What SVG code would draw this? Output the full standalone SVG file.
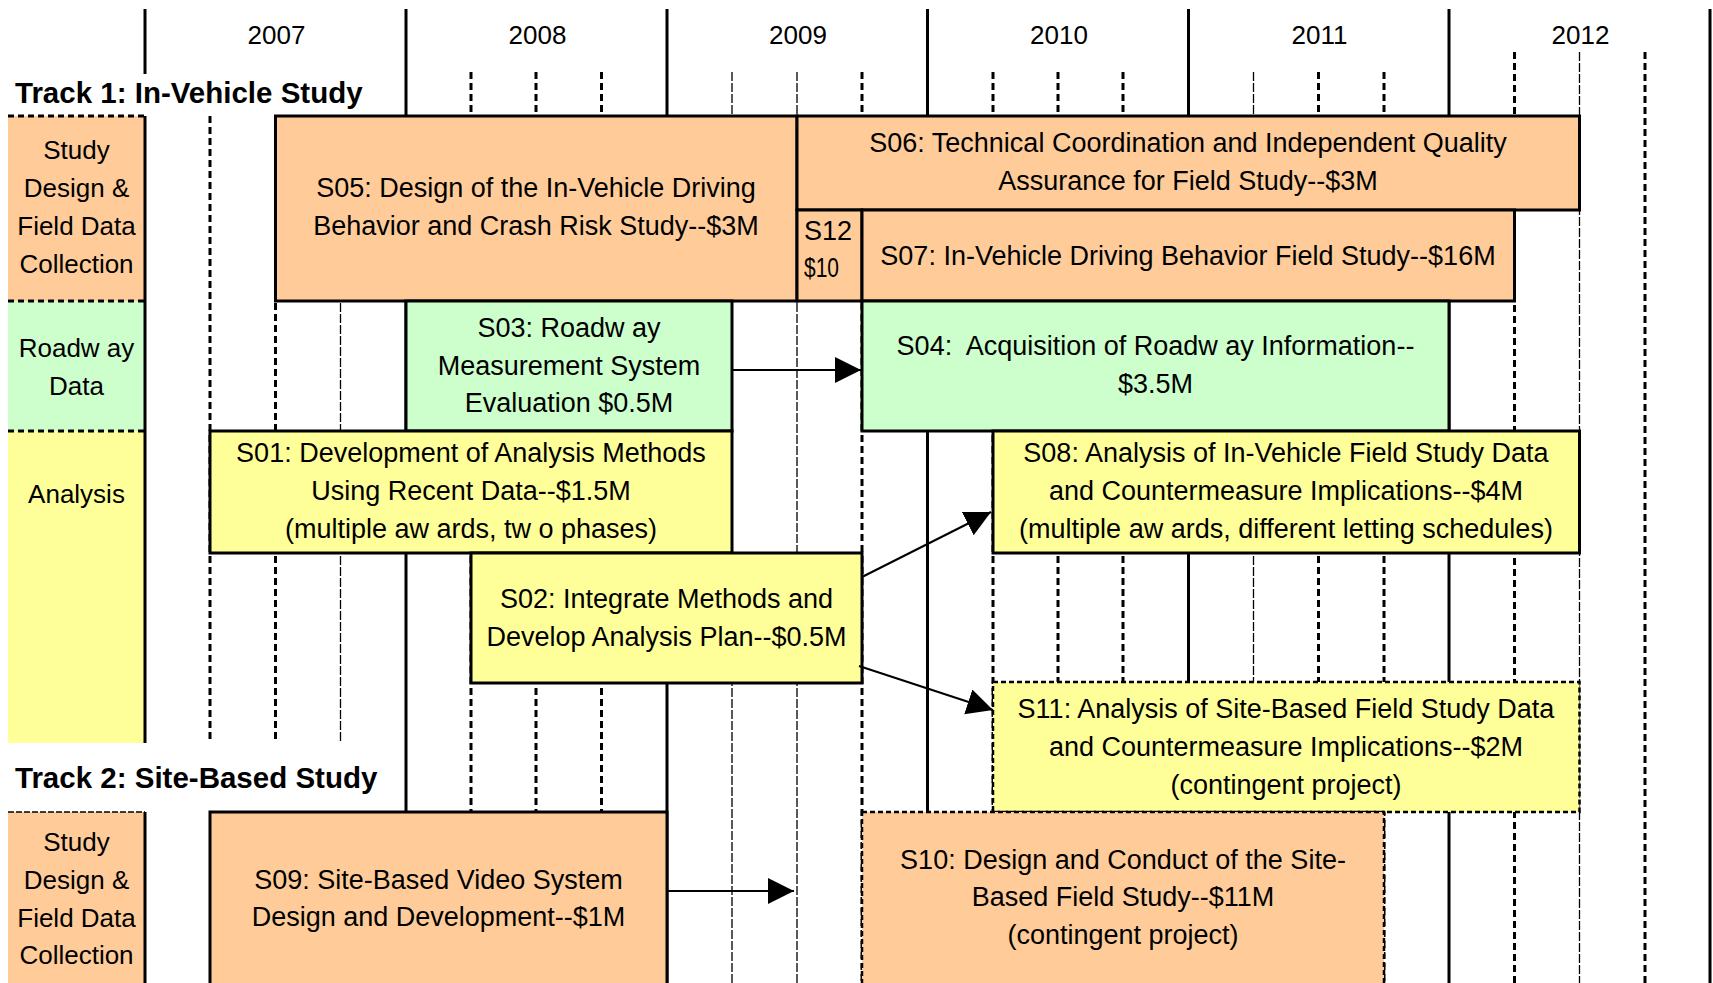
<svg xmlns="http://www.w3.org/2000/svg" width="1713" height="983" viewBox="0 0 1713 983">
<defs>
<style>
.t{font-family:"Liberation Sans",Arial,sans-serif;font-size:27px;fill:#000;text-anchor:middle}
.ln{font-size:26px}
.tl{text-anchor:start}
.bold{font-family:"Liberation Sans",Arial,sans-serif;font-weight:bold;font-size:29.5px;fill:#000}
.yr{stroke:#000;stroke-width:3}
.q1{stroke:#000;stroke-width:3;stroke-dasharray:7 4}
.q2{stroke:#000;stroke-width:1.3;stroke-dasharray:9 2}
.or{fill:#FFCC99}
.gr{fill:#CCFFCC}
.ye{fill:#FFFF99}
.box{stroke:#000;stroke-width:3}
.dbox{stroke:#000;stroke-width:2.5;stroke-dasharray:5 3}
.lb{stroke:#000;stroke-width:3;stroke-dasharray:6 4}
.lb2{stroke:#000;stroke-width:1.5;stroke-dasharray:6 2}
.conn line{stroke:#000;stroke-width:2;marker-end:url(#ah)}
</style>
<marker id="ah" markerUnits="userSpaceOnUse" markerWidth="28" markerHeight="28" refX="26" refY="13" orient="auto"><path d="M0,0 L26,13 L0,26 Z" fill="#000"/></marker>
</defs>
<rect x="0" y="0" width="1713" height="983" fill="#fff"/>

<g id="lanes">
<rect class="or" x="8" y="116" width="137" height="185"/>
<rect class="gr" x="8" y="301" width="137" height="130"/>
<rect class="ye" x="8" y="431" width="137" height="312"/>
<rect class="or" x="8" y="812" width="137" height="171"/>
<line class="lb" x1="8" y1="116" x2="145" y2="116"/>
<line class="lb" x1="8" y1="301" x2="145" y2="301"/>
<line class="lb" x1="8" y1="431" x2="145" y2="431"/>
<line class="lb2" x1="8" y1="812" x2="145" y2="812"/>
<text class="t ln" x="76.5" y="159">Study</text>
<text class="t ln" x="76.5" y="197">Design &amp;</text>
<text class="t ln" x="76.5" y="235">Field Data</text>
<text class="t ln" x="76.5" y="273">Collection</text>
<text class="t ln" x="76.5" y="357">Roadw ay</text>
<text class="t ln" x="76.5" y="395">Data</text>
<text class="t ln" x="76.5" y="503">Analysis</text>
<text class="t ln" x="76.5" y="851">Study</text>
<text class="t ln" x="76.5" y="889">Design &amp;</text>
<text class="t ln" x="76.5" y="926.5">Field Data</text>
<text class="t ln" x="76.5" y="964">Collection</text>
</g>

<g id="grid">
<line class="yr" x1="145" y1="9" x2="145" y2="74"/>
<line class="yr" x1="145" y1="116" x2="145" y2="743"/>
<line class="yr" x1="145" y1="812" x2="145" y2="983"/>
<line class="yr" x1="406" y1="9" x2="406" y2="983"/>
<line class="yr" x1="667" y1="9" x2="667" y2="983"/>
<line class="yr" x1="927.5" y1="9" x2="927.5" y2="983"/>
<line class="yr" x1="1188.5" y1="9" x2="1188.5" y2="983"/>
<line class="yr" x1="1449" y1="9" x2="1449" y2="983"/>
<line class="yr" x1="1710" y1="9" x2="1710" y2="983"/>
<line class="q1" x1="210" y1="116" x2="210" y2="743"/>
<line class="q1" x1="275.5" y1="116" x2="275.5" y2="743"/>
<line class="q2" x1="340.5" y1="116" x2="340.5" y2="743"/>
<line class="q1" x1="471" y1="72" x2="471" y2="983"/>
<line class="q1" x1="536" y1="72" x2="536" y2="983"/>
<line class="q1" x1="601.5" y1="72" x2="601.5" y2="983"/>
<line class="q2" x1="732" y1="72" x2="732" y2="983"/>
<line class="q2" x1="797" y1="72" x2="797" y2="983"/>
<line class="q1" x1="862" y1="72" x2="862" y2="983"/>
<line class="q1" x1="993" y1="72" x2="993" y2="983"/>
<line class="q1" x1="1058" y1="72" x2="1058" y2="983"/>
<line class="q1" x1="1123" y1="72" x2="1123" y2="983"/>
<line class="q2" x1="1253.5" y1="72" x2="1253.5" y2="983"/>
<line class="q1" x1="1318.5" y1="72" x2="1318.5" y2="983"/>
<line class="q1" x1="1384" y1="72" x2="1384" y2="983"/>
<line class="q1" x1="1514.5" y1="52" x2="1514.5" y2="983"/>
<line class="q2" x1="1579.5" y1="52" x2="1579.5" y2="983"/>
<line class="q1" x1="1645" y1="52" x2="1645" y2="983"/>
<text class="t ln" x="276.5" y="44">2007</text>
<text class="t ln" x="537.5" y="44">2008</text>
<text class="t ln" x="798" y="44">2009</text>
<text class="t ln" x="1059" y="44">2010</text>
<text class="t ln" x="1319.5" y="44">2011</text>
<text class="t ln" x="1580.5" y="44">2012</text>
</g>

<g id="track1-label"><text class="bold" x="15" y="103">Track 1: In-Vehicle Study</text></g>
<g id="track2-label"><text class="bold" x="15" y="788">Track 2: Site-Based Study</text></g>

<g id="S05"><rect class="or box" x="275.5" y="116" width="521.5" height="185"/>
<text class="t" x="536" y="196.5">S05: Design of the In-Vehicle Driving</text>
<text class="t" x="536" y="234.5">Behavior and Crash Risk Study--$3M</text></g>

<g id="S06"><rect class="or box" x="797" y="116" width="782.5" height="94"/>
<text class="t" x="1188" y="152">S06: Technical Coordination and Independent Quality</text>
<text class="t" x="1188" y="190">Assurance for Field Study--$3M</text></g>

<g id="S12"><rect class="or box" x="797" y="210" width="65" height="91"/>
<text class="t tl" x="804" y="240">S12</text>
<text class="t tl" x="804" y="277" textLength="35" lengthAdjust="spacingAndGlyphs">$10</text></g>

<g id="S07"><rect class="or box" x="862" y="210" width="652.5" height="91"/>
<text class="t" x="1188" y="265">S07: In-Vehicle Driving Behavior Field Study--$16M</text></g>

<g id="S03"><rect class="gr box" x="406" y="301" width="326" height="130"/>
<text class="t" x="569" y="337">S03: Roadw ay</text>
<text class="t" x="569" y="375">Measurement System</text>
<text class="t" x="569" y="412">Evaluation $0.5M</text></g>

<g id="S04"><rect class="gr box" x="862" y="301" width="587" height="130"/>
<text class="t" x="1155.5" y="355" xml:space="preserve">S04:  Acquisition of Roadw ay Information--</text>
<text class="t" x="1155.5" y="393">$3.5M</text></g>

<g id="S01"><rect class="ye box" x="210" y="431" width="522" height="122"/>
<text class="t" x="471" y="462">S01: Development of Analysis Methods</text>
<text class="t" x="471" y="500">Using Recent Data--$1.5M</text>
<text class="t" x="471" y="538">(multiple aw ards, tw o phases)</text></g>

<g id="S08"><rect class="ye box" x="993" y="431" width="586.5" height="122"/>
<text class="t" x="1286" y="462">S08: Analysis of In-Vehicle Field Study Data</text>
<text class="t" x="1286" y="500">and Countermeasure Implications--$4M</text>
<text class="t" x="1286" y="538">(multiple aw ards, different letting schedules)</text></g>

<g id="S02"><rect class="ye box" x="471" y="553" width="391" height="130"/>
<text class="t" x="666.5" y="607.5">S02: Integrate Methods and</text>
<text class="t" x="666.5" y="645.5">Develop Analysis Plan--$0.5M</text></g>

<g id="S11"><rect class="ye dbox" x="993" y="682" width="586.5" height="130"/>
<text class="t" x="1286" y="717.5">S11: Analysis of Site-Based Field Study Data</text>
<text class="t" x="1286" y="755.5">and Countermeasure Implications--$2M</text>
<text class="t" x="1286" y="793.5">(contingent project)</text></g>

<g id="S09"><rect class="or box" x="210" y="812" width="457" height="180"/>
<text class="t" x="438.5" y="889">S09: Site-Based Video System</text>
<text class="t" x="438.5" y="926">Design and Development--$1M</text></g>

<g id="S10"><rect class="or dbox" x="862" y="812" width="522" height="180"/>
<text class="t" x="1123" y="868.5">S10: Design and Conduct of the Site-</text>
<text class="t" x="1123" y="906">Based Field Study--$11M</text>
<text class="t" x="1123" y="944">(contingent project)</text></g>

<g id="connectors" class="conn">
<line x1="732" y1="370" x2="861" y2="370"/>
<line x1="862" y1="577" x2="991" y2="512"/>
<line x1="859" y1="666" x2="993" y2="710"/>
<line x1="667" y1="891" x2="794" y2="891"/>
</g>
</svg>
